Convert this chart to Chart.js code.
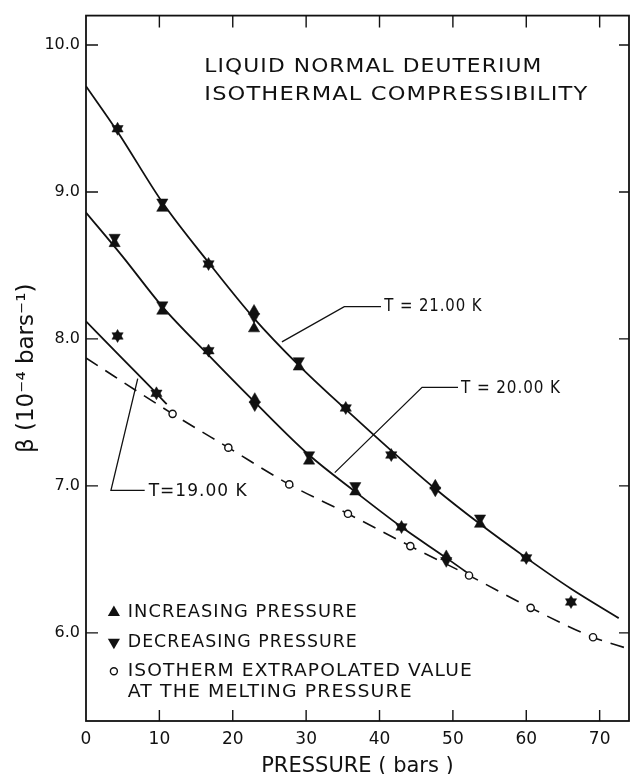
<!DOCTYPE html>
<html>
<head>
<meta charset="utf-8">
<script src="https://cdn.jsdelivr.net/npm/chart.js@4.4.1/dist/chart.umd.min.js"></script>
<style>
  html, body { margin: 0; padding: 0; background: #fff; }
  #wrap { width: 636px; height: 774px; }
</style>
</head>
<body>
<div id="wrap"><canvas id="chart"></canvas></div>
<script>
// pressure in bars, beta in 1e-4 / bar
const xTicks = [0, 10, 20, 30, 40, 50, 60, 70];
const yTicks = [6, 7, 8, 9, 10];

// T = 21.00 K
const p21Inc = [4.3, 10.4, 16.7, 22.9, 22.9, 29.0, 35.4, 41.6, 47.6, 53.7, 60.0, 66.1];
const b21Inc = [9.43, 8.89, 8.51, 8.19, 8.07, 7.81, 7.53, 7.21, 7.00, 6.74, 6.51, 6.21];
const p21Dec = [4.3, 10.4, 16.7, 22.9, 29.0, 35.4, 41.6, 47.6, 53.7, 60.0, 66.1];
const b21Dec = [9.43, 8.93, 8.51, 8.15, 7.85, 7.53, 7.21, 6.97, 6.78, 6.51, 6.21];

// T = 20.00 K
const p20 = [3.9, 10.4, 16.7, 23.0, 30.4, 36.7, 43.0, 49.1];
const b20Inc = [8.65, 8.19, 7.92, 7.59, 7.17, 6.96, 6.72, 6.52];
const b20Dec = [8.69, 8.23, 7.92, 7.55, 7.21, 7.00, 6.72, 6.49];

// T = 19.00 K
const p19 = [4.3, 9.6];
const b19Inc = [8.02, 7.63];
const b19Dec = [8.02, 7.63];

// extrapolated values at the melting pressure
const pMelt = [11.8, 19.4, 27.7, 35.7, 44.2, 52.2, 60.6, 69.1];
const bMelt = [7.49, 7.26, 7.01, 6.81, 6.59, 6.39, 6.17, 5.97];

// drawn curves
const fit21P = [0, 4.3, 10.4, 16.7, 22.9, 29.0, 35.4, 41.6, 47.6, 53.7, 60.0, 66.1, 72.6];
const fit21B = [9.72, 9.41, 8.93, 8.52, 8.14, 7.82, 7.52, 7.24, 6.98, 6.74, 6.51, 6.30, 6.10];
const fit20P = [0, 5.0, 10.4, 16.7, 23.0, 30.4, 36.7, 43.0, 49.1, 52.2];
const fit20B = [8.86, 8.56, 8.22, 7.89, 7.57, 7.21, 6.96, 6.72, 6.51, 6.40];
const fit19P = [0, 4.3, 9.6, 11.0];
const fit19B = [8.12, 7.90, 7.63, 7.556];
const meltP = [0, 11.8, 19.4, 27.7, 35.7, 44.2, 52.2, 60.6, 69.1, 74];
const meltB = [7.87, 7.49, 7.26, 7.01, 6.81, 6.59, 6.39, 6.17, 5.97, 5.89];

const ink = '#111';
const face = "'DejaVu Sans', sans-serif";

function pts(xs, ys) { return xs.map((v, i) => ({ x: v, y: ys[i] })); }

function markers(xs, ys, down) {
  return {
    data: pts(xs, ys),
    showLine: false,
    pointStyle: 'triangle',
    rotation: down ? 180 : 0,
    pointRadius: 6.5,
    pointBackgroundColor: ink,
    pointBorderColor: ink,
    pointBorderWidth: 0.5,
    order: 1
  };
}

function curve(xs, ys, dash) {
  return {
    data: pts(xs, ys),
    showLine: true,
    pointRadius: 0,
    borderColor: ink,
    borderWidth: dash ? 1.6 : 1.8,
    borderDash: dash ? [14, 9] : [],
    cubicInterpolationMode: 'monotone',
    order: 2
  };
}

// wide hand lettering: a little spacing, then stretched to the measured width
function lettered(ctx, str, px, py, width) {
  ctx.save();
  ctx.letterSpacing = '1px';
  const w = ctx.measureText(str).width;
  ctx.translate(px, py);
  ctx.scale(width / w, 1);
  ctx.fillText(str, 0, 0);
  ctx.restore();
}

function tri(ctx, cx, cy, r, down) {
  const s = down ? -1 : 1;
  ctx.beginPath();
  ctx.moveTo(cx, cy - s * r);
  ctx.lineTo(cx + r * 0.866, cy + s * r / 2);
  ctx.lineTo(cx - r * 0.866, cy + s * r / 2);
  ctx.closePath();
  ctx.fill();
}

const annotate = {
  id: 'annotate',
  afterDatasetsDraw(chart) {
    const { ctx, chartArea: a, scales: { x, y } } = chart;
    const X = v => x.getPixelForValue(v);
    const Y = v => y.getPixelForValue(v);
    ctx.save();
    ctx.strokeStyle = ink;
    ctx.fillStyle = ink;

    // frame with inward ticks on all four sides
    ctx.lineWidth = 1.8;
    ctx.strokeRect(a.left, a.top, a.right - a.left, a.bottom - a.top);
    ctx.lineWidth = 1.4;
    ctx.beginPath();
    xTicks.forEach(v => {
      if (v === 0) return;
      ctx.moveTo(X(v), a.bottom); ctx.lineTo(X(v), a.bottom - 11);
      ctx.moveTo(X(v), a.top); ctx.lineTo(X(v), a.top + 12);
    });
    yTicks.forEach(v => {
      ctx.moveTo(a.left, Y(v)); ctx.lineTo(a.left + 12, Y(v));
      ctx.moveTo(a.right, Y(v)); ctx.lineTo(a.right - 10, Y(v));
    });
    ctx.stroke();

    // leader lines to the isotherm labels
    ctx.lineWidth = 1.3;
    const leaders = [
      [[26.7, 7.98], [35.2, 8.22], [40.2, 8.22]],
      [[33.9, 7.09], [45.8, 7.67], [50.7, 7.67]],
      [[7.05, 7.73], [3.4, 6.97], [8.0, 6.97]]
    ];
    leaders.forEach(seg => {
      ctx.beginPath();
      seg.forEach(([px, py], i) => i ? ctx.lineTo(X(px), Y(py)) : ctx.moveTo(X(px), Y(py)));
      ctx.stroke();
    });

    ctx.textBaseline = 'middle';
    ctx.textAlign = 'left';

    ctx.font = '17px ' + face;
    lettered(ctx, 'T = 21.00 K', X(40.66), Y(8.22), 98);
    lettered(ctx, 'T = 20.00 K', X(51.1), Y(7.665), 100);
    lettered(ctx, 'T=19.00 K', X(8.54), Y(6.96), 99);

    ctx.font = '20px ' + face;
    lettered(ctx, 'LIQUID NORMAL DEUTERIUM', X(16.13), Y(9.855), 338);
    lettered(ctx, 'ISOTHERMAL COMPRESSIBILITY', X(16.13), Y(9.66), 384);

    // key
    ctx.font = '17px ' + face;
    tri(ctx, X(3.8), Y(6.139), 7, false);
    tri(ctx, X(3.8), Y(5.936), 7, true);
    ctx.lineWidth = 1.4;
    ctx.beginPath();
    ctx.arc(X(3.8), Y(5.739), 3.5, 0, Math.PI * 2);
    ctx.stroke();
    lettered(ctx, 'INCREASING PRESSURE', X(5.69), Y(6.139), 230);
    lettered(ctx, 'DECREASING PRESSURE', X(5.69), Y(5.936), 230);
    lettered(ctx, 'ISOTHERM EXTRAPOLATED VALUE', X(5.69), Y(5.739), 345);
    lettered(ctx, 'AT THE MELTING PRESSURE', X(5.69), Y(5.59), 285);
    ctx.restore();
  }
};

new Chart(document.getElementById('chart'), {
  type: 'scatter',
  data: {
    datasets: [
      markers(p21Inc, b21Inc, false),
      markers(p21Dec, b21Dec, true),
      markers(p20, b20Inc, false),
      markers(p20, b20Dec, true),
      markers(p19, b19Inc, false),
      markers(p19, b19Dec, true),
      {
        data: pts(pMelt, bMelt),
        showLine: false,
        pointStyle: 'circle',
        pointRadius: 3.6,
        pointBackgroundColor: '#fff',
        pointBorderColor: ink,
        pointBorderWidth: 1.4,
        order: 0
      },
      curve(fit21P, fit21B, false),
      curve(fit20P, fit20B, false),
      curve(fit19P, fit19B, false),
      curve(meltP, meltB, true)
    ]
  },
  options: {
    responsive: true,
    maintainAspectRatio: false,
    animation: false,
    layout: { padding: { top: 13, right: 4, left: 0, bottom: 0 } },
    plugins: { legend: { display: false }, tooltip: { enabled: false } },
    scales: {
      x: {
        type: 'linear',
        min: 0,
        max: 74,
        afterBuildTicks: s => { s.ticks = xTicks.map(v => ({ value: v })); },
        afterFit: s => { s.height = 53; },
        grid: { display: false, drawTicks: false },
        border: { display: false },
        ticks: { color: ink, padding: 8, font: { family: face, size: 17 } },
        title: {
          display: true,
          text: 'PRESSURE ( bars )',
          color: ink,
          padding: { top: 0, bottom: 0 },
          font: { family: face, size: 21, lineHeight: 0.7 }
        }
      },
      y: {
        type: 'linear',
        min: 5.4,
        max: 10.2,
        afterBuildTicks: s => { s.ticks = yTicks.map(v => ({ value: v })); },
        afterFit: s => { s.width = 86; },
        grid: { display: false, drawTicks: false },
        border: { display: false },
        ticks: {
          color: ink,
          padding: 6,
          font: { family: face, size: 16 },
          callback: v => Number(v).toFixed(1)
        },
        title: {
          display: true,
          text: 'β (10⁻⁴ bars⁻¹)',
          color: ink,
          padding: { top: 13, bottom: 0 },
          font: { family: face, size: 23, lineHeight: 1.2 }
        }
      }
    }
  },
  plugins: [annotate]
});
</script>
</body>
</html>
